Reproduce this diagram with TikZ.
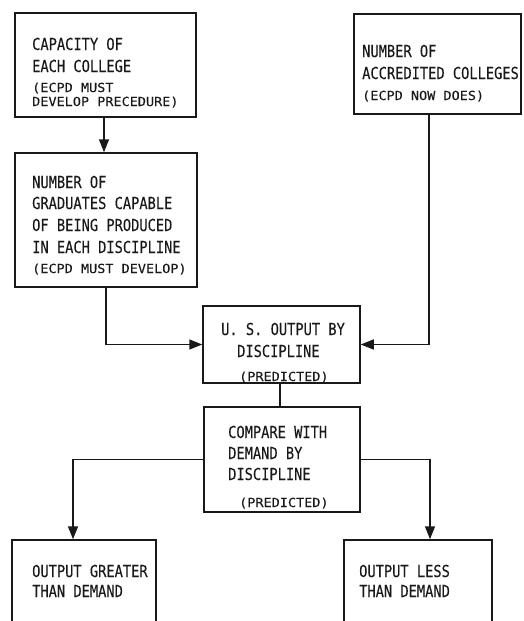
\documentclass[tikz,border=0pt]{standalone}
\usepackage{fontspec}
\usetikzlibrary{arrows.meta}
\newfontfamily\bigmono[FakeStretch=0.83,FakeBold=0.15]{DejaVu Sans Mono}
\newfontfamily\smallmono[FakeStretch=1.08,FakeBold=0.1]{DejaVu Sans Mono}
\begin{document}
\begin{tikzpicture}[x=1pt,y=-1pt,
  box/.style={draw=black!90,line width=1.5pt,inner sep=0pt,fill=none},
  big/.style={inner sep=0pt,anchor=base west,text=black!90,font=\bigmono\fontsize{16.5}{18}\selectfont},
  small/.style={inner sep=0pt,anchor=base west,text=black!90,font=\smallmono\fontsize{12.5}{14}\selectfont},
  conn/.style={draw=black!90,line width=1.5pt},
  arr/.style={conn,-{Triangle[length=13pt,width=10pt]}}]
\useasboundingbox (0,0) rectangle (523,621);
\clip (0,0) rectangle (523,621);
\fill[white] (0,0) rectangle (523,621);
% boxes
\node[box,minimum width=181pt,minimum height=104pt] (cap) at (105.5,65) {};
\node[box,minimum width=182pt,minimum height=134pt] (grad) at (106,220) {};
\node[box,minimum width=167pt,minimum height=100pt] (acc) at (437.5,64) {};
\node[box,minimum width=157pt,minimum height=77pt] (us) at (281.5,344.5) {};
\node[box,minimum width=156pt,minimum height=105pt] (cmp) at (282,459.5) {};
\node[box,minimum width=144pt,minimum height=100pt] (gt) at (84,590) {};
\node[box,minimum width=148pt,minimum height=100pt] (lt) at (418,590) {};
% texts
\node[big] (c1) at (32,50) {CAPACITY OF};
\node[big] (c2) at (32,72) {EACH COLLEGE};
\node[small] (c3) at (32,92) {(ECPD MUST};
\node[small] (c4) at (32,106) {DEVELOP PRECEDURE)};
\node[big] (g1) at (32,188) {NUMBER OF};
\node[big] (g2) at (32,209) {GRADUATES CAPABLE};
\node[big] (g3) at (32,231) {OF BEING PRODUCED};
\node[big] (g4) at (32,253) {IN EACH DISCIPLINE};
\node[small] (g5) at (32,273) {(ECPD MUST DEVELOP)};
\node[big] (a1) at (362,57) {NUMBER OF};
\node[big] (a2) at (362,79) {ACCREDITED COLLEGES};
\node[small] (a3) at (362,100) {(ECPD NOW DOES)};
\node[big] (u1) at (221,335) {U. S. OUTPUT BY};
\node[big] (u2) at (237,357) {DISCIPLINE};
\node[small] (u3) at (239,381) {(PREDICTED)};
\node[big] (m1) at (228,438) {COMPARE WITH};
\node[big] (m2) at (228,459) {DEMAND BY};
\node[big] (m3) at (228,480) {DISCIPLINE};
\node[small] (m4) at (239,507) {(PREDICTED)};
\node[big] (o1) at (32,577) {OUTPUT GREATER};
\node[big] (o2) at (32,597) {THAN DEMAND};
\node[big] (l1) at (359,577) {OUTPUT LESS};
\node[big] (l2) at (359,597) {THAN DEMAND};
% connectors
\draw[arr] ([xshift=-1.5pt]cap.south) -- ([xshift=-1.5pt]cap.south |- grad.north);
\draw[arr] (grad.south) |- (us.west);
\draw[arr] ([xshift=-8.5pt]acc.south) |- (us.east);
\draw[conn] ([xshift=-1.5pt]us.south) -- ([xshift=-1.5pt]us.south |- cmp.north);
\draw[arr] (cmp.west) -| ([xshift=-11pt]gt.north);
\draw[arr] (cmp.east) -| ([xshift=12pt]lt.north);
\end{tikzpicture}
\end{document}
